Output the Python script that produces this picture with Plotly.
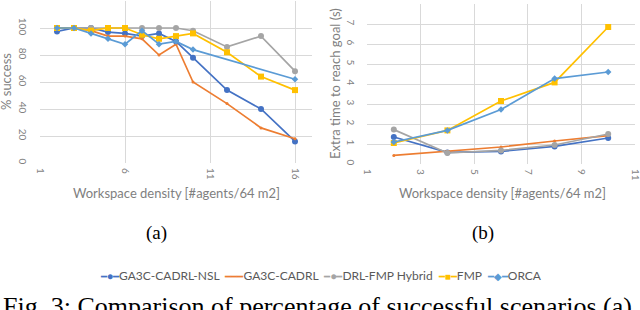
import plotly.graph_objects as go

# ---------------- data ----------------
series_names = ["GA3C-CADRL-NSL", "GA3C-CADRL", "DRL-FMP Hybrid", "FMP", "ORCA"]
series_colors = ["#4472C4", "#ED7D31", "#A5A5A5", "#FFC000", "#5B9BD5"]
series_symbols = ["circle", "circle", "circle", "square", "diamond"]
series_msizes = [6, 3, 6, 6, 5]
legend_glyphs = ["●", "━", "●", "■", "◆"]

# (a) success rate
density_a = [2, 3, 4, 5, 6, 7, 8, 9, 10, 12, 14, 16]
success_nsl = [97.5, 100, 100, 97, 96, 94, 96, 90, 78, 54, 40, 16]
success_cadrl = [100, 100, 98, 94, 94, 92, 80, 88, 60, 44, 26, 18]
success_hybrid = [100, 100, 100, 100, 100, 100, 100, 100, 98, 86, 94, 68]
success_fmp = [100, 100, 98, 100, 100, 95, 92, 94, 96, 82, 64, 54]
density_a_orca = [2, 3, 4, 5, 6, 7, 8, 9, 10, 16]
success_orca = [100, 100, 96, 92, 88, 98, 88, 90, 84, 62]
xa_ticks = [1, 6, 11, 16]
ya_ticks = [0, 20, 40, 60, 80, 100]

# (b) extra time to reach goal
density_b = [2, 4, 6, 8, 10]
time_nsl = [1.35, 0.58, 0.63, 0.88, 1.3]
time_cadrl = [0.43, 0.64, 0.85, 1.15, 1.42]
time_hybrid = [1.72, 0.55, 0.68, 0.95, 1.5]
time_fmp = [1.05, 1.68, 3.15, 4.08, 6.85]
time_orca = [1.1, 1.68, 2.72, 4.27, 4.6]
xb_ticks = [1, 3, 5, 7, 9, 11]
yb_ticks = [0, 1, 2, 3, 4, 5, 6, 7]

x_title = "Workspace density [#agents/64 m2]"
ya_title = "% success"
yb_title = "Extra time to reach goal (s)"
caption = "Fig. 3: Comparison of percentage of successful scenarios (a)"

# ---------------- figure ----------------
W, H = 640, 310
def px_x(p):
    return p / W
def px_y(p):
    return 1 - p / H

a_x = [density_a, density_a, density_a, density_a, density_a_orca]
a_y = [success_nsl, success_cadrl, success_hybrid, success_fmp, success_orca]
b_y = [time_nsl, time_cadrl, time_hybrid, time_fmp, time_orca]

fig = go.Figure()
for i, name in enumerate(series_names):
    fig.add_trace(go.Scatter(
        x=a_x[i], y=a_y[i], name=name, mode="lines+markers",
        line=dict(color=series_colors[i], width=1.7),
        marker=dict(symbol=series_symbols[i], size=series_msizes[i], color=series_colors[i]),
        xaxis="x", yaxis="y", showlegend=False))
for i, name in enumerate(series_names):
    fig.add_trace(go.Scatter(
        x=density_b, y=b_y[i], name=name, mode="lines+markers",
        line=dict(color=series_colors[i], width=1.7),
        marker=dict(symbol=series_symbols[i], size=series_msizes[i], color=series_colors[i]),
        xaxis="x2", yaxis="y2", showlegend=False))

tick_font = dict(family="Lato, Noto Sans, sans-serif", size=10, color="#7F7F7F")
grid = "#D9D9D9"

common_x = dict(showgrid=True, gridcolor=grid, gridwidth=1, zeroline=False,
                showline=False, ticks="", tickangle=90, tickfont=tick_font,
                automargin=False, ticklabelstandoff=4, ticklabeloverflow="allow")
common_y = dict(showgrid=True, gridcolor=grid, gridwidth=1, zeroline=False,
                showline=False, ticks="", tickangle=90, tickfont=tick_font,
                automargin=False, ticklabeloverflow="allow")

fig.update_layout(
    width=W, height=H,
    margin=dict(l=0, r=0, t=0, b=0),
    paper_bgcolor="white", plot_bgcolor="white",
    showlegend=False,
    xaxis=dict(domain=[px_x(40), px_x(312)], range=[1, 17], tickvals=xa_ticks,
               anchor="y", **common_x),
    yaxis=dict(domain=[px_y(163), px_y(1)], range=[0, 120], tickvals=ya_ticks,
               anchor="x", ticklabelstandoff=10, **common_y),
    xaxis2=dict(domain=[px_x(367), px_x(635)], range=[1, 11], tickvals=xb_ticks,
                anchor="y2", **common_x),
    yaxis2=dict(domain=[px_y(164), px_y(4)], range=[0, 8], tickvals=yb_ticks,
                anchor="x2", ticklabelstandoff=9, **common_y),
)

# legend built as one line of text with coloured glyphs
parts = []
for name, col, g in zip(series_names, series_colors, legend_glyphs):
    sym = (g * 3) if g == "━" else ("━" + g + "━")
    parts.append(f"<span style='color:{col};font-size:10px'>{sym}</span>{name}")
legend_text = "&nbsp;&nbsp;".join(parts)

title_font = dict(family="Lato, Noto Sans, sans-serif", size=13, color="#7F7F7F")
serif = dict(family="Liberation Serif, Times New Roman, serif", color="black")
ann = [
    dict(text=x_title, x=px_x(176), y=px_y(193), font=title_font),
    dict(text=x_title, x=px_x(502), y=px_y(193), font=title_font),
    dict(text=ya_title, x=px_x(6), y=px_y(82), textangle=-90, font=title_font),
    dict(text=yb_title, x=px_x(335), y=px_y(84), textangle=-90, font=title_font),
    dict(text="(a)", x=px_x(156), y=px_y(233), font=dict(size=19, **serif)),
    dict(text="(b)", x=px_x(483), y=px_y(233), font=dict(size=19, **serif)),
    dict(text=legend_text, x=px_x(321), y=px_y(275),
         font=dict(family="Lato, Noto Sans, sans-serif", size=12, color="#595959")),
    dict(text=caption, x=px_x(1), y=px_y(306), xanchor="left", font=dict(size=26, **serif)),
]
for a in ann:
    a.setdefault("xanchor", "center")
    a.update(xref="paper", yref="paper", showarrow=False, yanchor="middle")
fig.update_layout(annotations=ann)

fig.write_html("out.html", config={"displayModeBar": False},
               post_script="document.body.style.margin='0';document.body.style.padding='0';")
